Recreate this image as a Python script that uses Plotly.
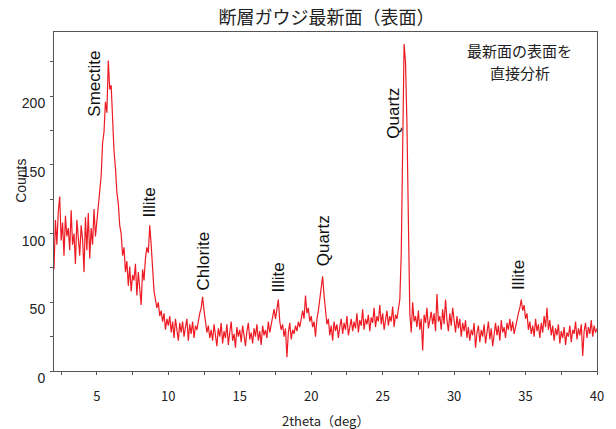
import numpy as np
import plotly.graph_objects as go

# ---- data (counts, 2theta from 2.0 to 40.0 every 0.1 deg) ----
two_theta_start = 2.0
two_theta_step = 0.1

counts = [
    # 2.x
    74, 110, 92, 116, 127, 95, 108, 84, 113, 98,
    # 3.x
    104, 88, 117, 92, 100, 78, 110, 95, 84, 106,
    # 4.x
    96, 72, 112, 88, 115, 82, 104, 92, 118, 98,
    # 5.x
    110, 118, 130, 142, 166, 174, 196, 188, 226, 205,
    # 6.x
    208, 176, 160, 148, 130, 122, 106, 100, 84, 90,
    # 7.x
    72, 80, 62, 76, 58, 70, 66, 78, 55, 72,
    # 8.x
    60, 48, 74, 66, 82, 90, 86, 106, 92, 78,
    # 9.x
    58, 52, 46, 50, 40, 44, 36, 42, 30, 38,
    # 10.x
    33, 40, 28, 36, 24, 38, 30, 22, 35, 28,
    # 11.x
    36, 25, 32, 38, 22, 34, 27, 36, 24, 33,
    # 12.x
    30, 38, 42, 46, 54, 44, 36, 28, 33, 24,
    # 13.x
    30, 22, 34, 26, 18, 31, 25, 35, 20, 29,
    # 14.x
    24, 34, 19, 28, 36, 22, 27, 17, 32, 25,
    # 15.x
    30, 21, 33, 26, 18, 29, 35, 23, 28, 20,
    # 16.x
    31, 25, 34, 22, 29, 19, 33, 26, 30, 24,
    # 17.x
    36, 28, 34, 40, 45, 38, 44, 52, 36, 30,
    # 18.x
    34, 25, 31, 10, 28, 35, 23, 30, 27, 33,
    # 19.x
    29, 36, 32, 40, 44, 38, 55, 42, 46, 36,
    # 20.x
    40, 32, 36, 25, 38, 44, 52, 62, 69, 55,
    # 21.x
    46, 34, 38, 26, 33, 22, 36, 29, 34, 24,
    # 22.x
    32, 38, 27, 35, 30, 40, 26, 34, 38, 29,
    # 23.x
    36, 31, 42, 28, 37, 33, 45, 30, 38, 34,
    # 24.x
    41, 29, 39, 35, 46, 32, 40, 36, 48, 34,
    # 25.x
    42, 30, 39, 44, 33, 40, 36, 47, 32, 41,
    # 26.x
    38, 44, 52, 85, 170, 238, 225, 180, 110, 42,
    # 27.x
    28, 50, 36, 40, 32, 44, 30, 38, 15, 41,
    # 28.x
    35, 46, 31, 38, 43, 34, 42, 29, 56, 36,
    # 29.x
    40, 30, 45, 34, 52, 37, 29, 42, 33, 46,
    # 30.x
    36, 28, 40, 31, 38, 25, 35, 29, 37, 24,
    # 31.x
    32, 22, 30, 26, 35, 17, 28, 33, 21, 30,
    # 32.x
    25, 34, 20, 29, 36, 23, 31, 18, 28, 35,
    # 33.x
    26, 33, 22, 37, 28, 32, 24, 35, 30, 38,
    # 34.x
    29, 36, 27, 33, 38, 42, 46, 52, 44, 48,
    # 35.x
    38, 42, 30, 36, 27, 33, 25, 38, 29, 34,
    # 36.x
    24, 35, 28, 40, 32, 46, 30, 37, 26, 33,
    # 37.x
    22, 31, 26, 34, 20, 29, 24, 32, 19, 28,
    # 38.x
    25, 33, 21, 30, 27, 36, 23, 31, 26, 34,
    # 39.x
    11, 29, 35, 24, 32, 27, 37, 25, 33, 28,
    # 40.0
    31,
]

two_theta = np.round(two_theta_start + two_theta_step * np.arange(len(counts)), 2)

peak_names = ["Smectite", "Illite", "Chlorite", "Illite", "Quartz", "Quartz", "Illite"]
peak_x = [4.85, 8.68, 12.45, 17.74, 20.88, 25.79, 34.56]
peak_y = [209, 123, 80, 68, 95, 188, 70]

x_ticks = [5, 10, 15, 20, 25, 30, 35, 40]
y_ticks = [0, 50, 100, 150, 200]

title_text = "断層ガウジ最新面（表面）"
note_lines = ["最新面の表面を", "直接分析"]
x_title = "2theta（deg）"
y_title = "Counts"

# ---- figure ----
fig = go.Figure()
fig.add_trace(go.Scatter(
    x=two_theta, y=counts, mode="lines",
    line=dict(color="#ED1C24", width=1.2),
    showlegend=False, hoverinfo="skip",
))

for name, px_, py_ in zip(peak_names, peak_x, peak_y):
    fig.add_annotation(
        x=px_, y=py_, xref="x", yref="y", text=name, showarrow=False,
        textangle=-90, font=dict(family="Liberation Sans, Arial", size=17, color="#111111"),
        xanchor="center", yanchor="middle",
    )

for line_text, ly in zip(note_lines, [0.944, 0.8805]):
    fig.add_annotation(
        x=0.858, y=ly, xref="paper", yref="paper", text=line_text, showarrow=False,
        font=dict(family="Noto Sans CJK JP", size=15, color="#222222"),
        xanchor="center", yanchor="middle", align="center",
    )
fig.add_annotation(
    x=-0.061, y=0.5605, xref="paper", yref="paper", text=y_title, showarrow=False,
    textangle=-90, font=dict(family="Liberation Sans, Arial", size=14, color="#222222"),
    xanchor="center", yanchor="middle",
)
fig.add_annotation(
    x=0.5, y=-0.145, xref="paper", yref="paper", text=x_title, showarrow=False,
    font=dict(family="Noto Sans CJK JP", size=13, color="#222222"),
    xanchor="center", yanchor="middle",
)

axis_color = "#555555"
fig.update_layout(
    width=616, height=429,
    margin=dict(l=54, r=12, t=32, b=58),
    paper_bgcolor="white", plot_bgcolor="white",
    title=dict(text=title_text, x=0.53, xref="container", xanchor="center",
               y=1 - 18 / 429, yref="container", yanchor="middle",
               font=dict(family="Noto Sans CJK JP", size=18, color="#222222")),
    xaxis=dict(
        range=[2, 40], tickvals=x_ticks, ticks="outside", ticklen=3, tickcolor=axis_color,
        showline=True, linecolor=axis_color, linewidth=1, mirror=True,
        showgrid=False, zeroline=False,
        minor=dict(dtick=2.5, tick0=0, ticks="outside", ticklen=3, tickcolor=axis_color, showgrid=False),
        tickfont=dict(family="Noto Sans CJK JP", size=13, color="#222222"),
        ticklabelstandoff=10,
    ),
    yaxis=dict(
        range=[0, 246.8], tickvals=y_ticks, ticks="outside", ticklen=3, tickcolor=axis_color,
        showline=True, linecolor=axis_color, linewidth=1, mirror=True,
        showgrid=False, zeroline=False,
        minor=dict(dtick=25, tick0=0, ticks="outside", ticklen=3, tickcolor=axis_color, showgrid=False),
        tickfont=dict(family="Liberation Sans, Arial", size=14, color="#222222"),
        ticklabelshift=7, ticklabelstandoff=2,
    ),
)

fig.write_html("out.html", config={"displayModeBar": False},
               post_script="document.body.style.margin='0px';")
